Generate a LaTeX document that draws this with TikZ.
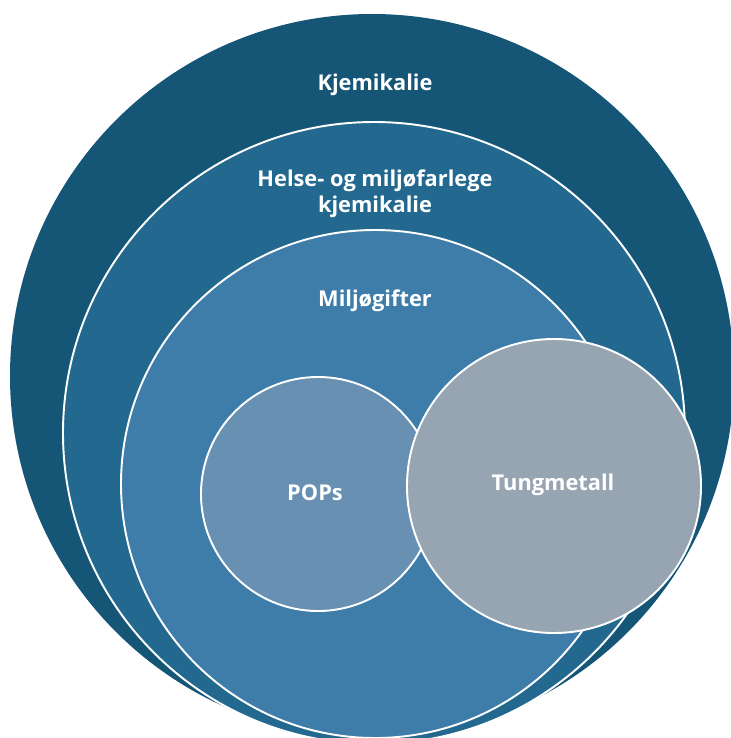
\documentclass[tikz,border=0pt]{standalone}
\usepackage{fontspec}
\setmainfont{Open Sans}
\usepackage{tikz}

\definecolor{kjemblue}{HTML}{155677}
\definecolor{helseblue}{HTML}{23698F}
\definecolor{giftblue}{HTML}{3E7DAA}
\definecolor{popblue}{HTML}{6790B2}
\definecolor{metallgrey}{HTML}{97A5B2}

\tikzset{
  ring/.style={draw=white, line width=1.1pt},
  tag/.style={text=white, font=\bfseries\fontsize{12.4}{14.8}\selectfont, align=center}
}

\begin{document}
\begin{tikzpicture}[x=0.02cm, y=-0.02cm]
				\useasboundingbox (0,0) rectangle (731,738);
				
				% nested circles, all touching at the bottom
				\fill[kjemblue] (372,376) circle (362);
				\draw[ring, fill=helseblue] (374,433) circle (311);
				\draw[ring, fill=giftblue] (375,484) circle (254);
				
				% the two overlapping groups
				\draw[ring, fill=popblue] (318,494) circle (117);
				\draw[ring, fill=metallgrey] (554,486) circle (147);
				
				\node[tag] (kjem) at (375,85) {Kjemikalie};
				\node[tag] (helse) at (375,194) {Helse- og miljøfarlege\\kjemikalie};
				\node[tag] (gift) at (375,301) {Miljøgifter};
				\node[tag] (pops) at (315,493) {POPs};
				\node[tag] (metall) at (553,485) {Tungmetall};
			\end{tikzpicture}
\end{document}
